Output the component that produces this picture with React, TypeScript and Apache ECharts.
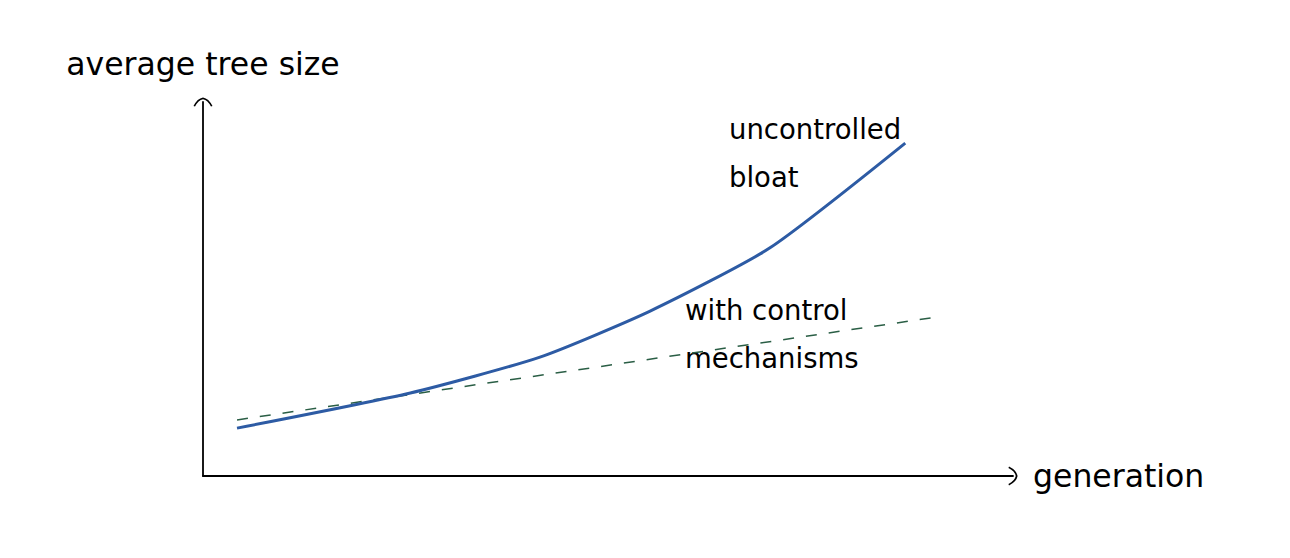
import React, { useEffect, useRef } from "react";
import * as echarts from "echarts";

// generation (x) and average tree size (y)
const bloatX = [4.2, 25.6, 41.6, 55.2, 70.0, 86.7];
const bloatY = [12.8, 22.2, 31.8, 44.1, 61.0, 89.0];
const controlX = [4.2, 90.6];
const controlY = [15.0, 42.5];

const xTitle = "generation";
const yTitle = "average tree size";
const bloatLabel = ["uncontrolled", "bloat"];
const controlLabel = ["with control", "mechanisms"];

const FONT = "'DejaVu Sans', sans-serif";
const ARROW =
  "path://M10,0 Q4,1 0,9 L1.6,9.6 Q5,2.9 10,1.9 Q15,2.9 18.4,9.6 L20,9 Q16,1 10,0 Z";

export default function App() {
  const ref = useRef<HTMLDivElement>(null);
  useEffect(() => {
    if (!ref.current) return;
    const chart = echarts.init(ref.current, null, { renderer: "svg" });
    const axisLine = {
      show: true,
      onZero: false,
      symbol: ["none", ARROW],
      symbolSize: [19, 11],
      lineStyle: { color: "#000", width: 1.8 },
    };
    const ann = (text: string, x: number, y: number) => ({
      type: "text",
      x,
      y,
      style: { text, font: `27.5px ${FONT}`, fill: "#000", textAlign: "left", verticalAlign: "middle" },
    });
    chart.setOption({
      animation: false,
      backgroundColor: "#fff",
      grid: { left: 203, right: 277, top: 102, bottom: 82 },
      xAxis: {
        type: "value",
        min: 0,
        max: 100,
        name: xTitle,
        nameLocation: "end",
        nameGap: 20,
        nameTextStyle: { fontFamily: FONT, fontSize: 31.5, color: "#000" },
        axisLine,
        axisTick: { show: false },
        axisLabel: { show: false },
        splitLine: { show: false },
      },
      yAxis: {
        type: "value",
        min: 0,
        max: 100,
        name: yTitle,
        nameLocation: "end",
        nameGap: 22,
        nameTextStyle: { fontFamily: FONT, fontSize: 31.5, color: "#000" },
        axisLine,
        axisTick: { show: false },
        axisLabel: { show: false },
        splitLine: { show: false },
      },
      series: [
        {
          type: "line",
          data: controlX.map((x, i) => [x, controlY[i]]),
          showSymbol: false,
          lineStyle: { color: "#2a5e45", width: 1.5, type: [11, 12] },
          z: 2,
        },
        {
          type: "line",
          data: bloatX.map((x, i) => [x, bloatY[i]]),
          showSymbol: false,
          smooth: 0.2,
          lineStyle: { color: "#2d5ba4", width: 3 },
          z: 3,
        },
      ],
      graphic: [
        ann(bloatLabel[0], 729, 129),
        ann(bloatLabel[1], 729, 177),
        ann(controlLabel[0], 685, 310),
        ann(controlLabel[1], 685, 358),
      ],
    });
    return () => chart.dispose();
  }, []);
  return (
    <div
      ref={ref}
      style={{ position: "fixed", left: 0, top: 0, width: 1290, height: 558, background: "#fff" }}
    />
  );
}
